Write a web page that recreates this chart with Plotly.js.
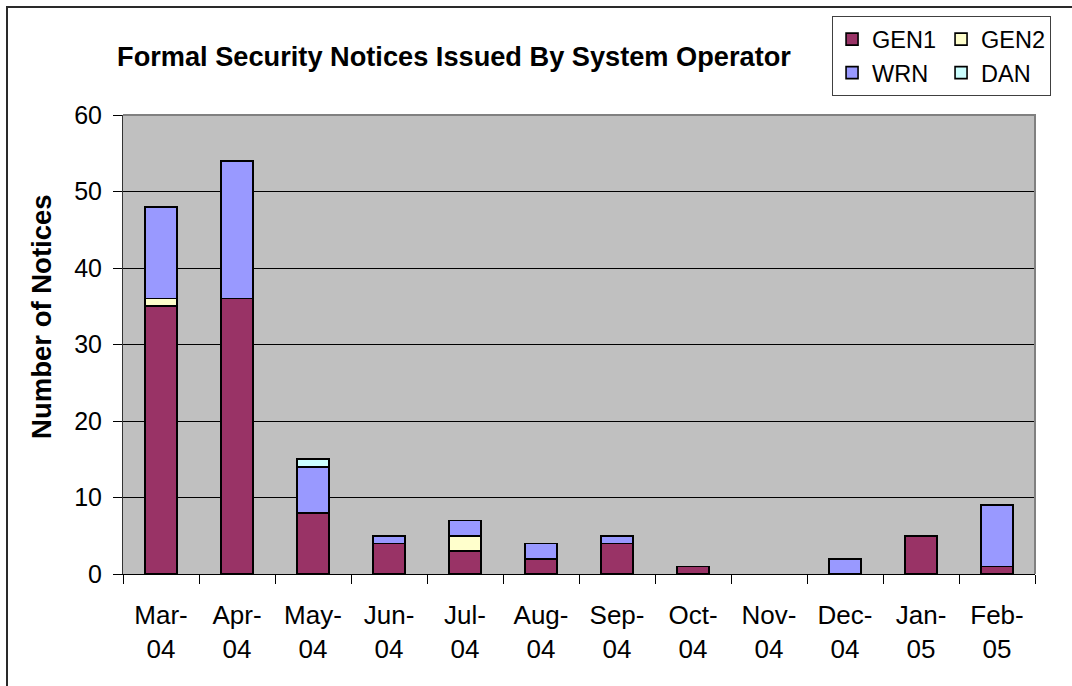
<!DOCTYPE html>
<html>
<head>
<meta charset="utf-8">
<script src="https://cdn.plot.ly/plotly-3.0.1.min.js"></script>
<style>
  html, body { margin: 0; padding: 0; background: #ffffff; }
  #frame { position: absolute; left: 6px; top: 6px; width: 2000px; height: 2000px; border: 2px solid #2a2a2a; box-sizing: border-box; }
  #chart { position: absolute; left: 0; top: 0; width: 1072px; height: 686px; }
</style>
</head>
<body>
<div id="frame"></div>
<div id="chart"></div>
<script>
const months = ["Mar-<br>04", "Apr-<br>04", "May-<br>04", "Jun-<br>04", "Jul-<br>04", "Aug-<br>04",
                "Sep-<br>04", "Oct-<br>04", "Nov-<br>04", "Dec-<br>04", "Jan-<br>05", "Feb-<br>05"];
const gen1 = [35, 36, 8, 4, 3, 2, 4, 1, 0, 0, 5, 1];
const gen2 = [1, 0, 0, 0, 2, 0, 0, 0, 0, 0, 0, 0];
const wrn  = [12, 18, 6, 1, 2, 2, 1, 0, 0, 2, 0, 8];
const dan  = [0, 0, 1, 0, 0, 0, 0, 0, 0, 0, 0, 0];

const FONT = "Arial, 'Liberation Sans', sans-serif";

function series(name, values, color, group) {
  return {
    type: "bar", name: name, x: months,
    // empty segments are not drawn (no zero-height outline)
    y: values.map(v => (v === 0 ? null : v)),
    legendgroup: group,
    marker: { color: color, line: { color: "#000000", width: 1.6 } },
    hoverinfo: "x+y+name"
  };
}

const data = [
  series("GEN1", gen1, "#993366", "a"),
  series("GEN2", gen2, "#FFFFCC", "b"),
  series("WRN",  wrn,  "#9999FF", "a"),
  series("DAN",  dan,  "#CCFFFF", "b")
];

const layout = {
  width: 1072, height: 686,
  paper_bgcolor: "rgba(0,0,0,0)",
  plot_bgcolor: "#C0C0C0",
  font: { family: FONT, color: "#000000" },
  margin: { l: 123, r: 37, t: 115, b: 112, autoexpand: false },
  barmode: "stack",
  bargap: 0.58,
  title: {
    text: "<b>Formal Security Notices Issued By System Operator</b>",
    font: { family: FONT, size: 27.2, color: "#000000" },
    xref: "container", x: 0.4235, xanchor: "center",
    yref: "container", y: 0.918, yanchor: "middle"
  },
  xaxis: {
    type: "category",
    tickson: "boundaries",
    ticks: "outside", ticklen: 9, tickwidth: 1, tickcolor: "#000000",
    showline: true, linecolor: "#000000", linewidth: 1,
    showgrid: false,
    ticklabelstandoff: 18,
    tickfont: { family: FONT, size: 26, color: "#000000" },
    automargin: false
  },
  yaxis: {
    range: [0, 60], dtick: 10, tick0: 0,
    ticks: "outside", ticklen: 9, tickwidth: 1, tickcolor: "#000000",
    showline: true, linecolor: "#333333", linewidth: 1,
    showgrid: true, gridcolor: "#000000", gridwidth: 1,
    zeroline: false,
    ticklabelstandoff: 6,
    tickfont: { family: FONT, size: 25, color: "#000000" },
    automargin: false
  },
  annotations: [
    { text: "<b>Number of Notices</b>", textangle: -90, showarrow: false,
      xref: "paper", x: -0.0889, xanchor: "center",
      yref: "paper", y: 0.56, yanchor: "middle",
      font: { family: FONT, size: 27.5, color: "#000000" } }
  ],
  legend: {
    orientation: "h",
    traceorder: "grouped",
    tracegroupgap: 38,
    xref: "paper", x: 1.0176, xanchor: "right",
    yref: "paper", y: 1.215, yanchor: "top",
    bgcolor: "#ffffff", bordercolor: "#404040", borderwidth: 1,
    font: { family: FONT, size: 23.5, color: "#000000" },
    itemwidth: 30
  },
  shapes: [
    { type: "path", xref: "paper", yref: "paper", path: "M0,1 L1,1 L1,0",
      line: { color: "#808080", width: 2 }, layer: "above" }
  ],
  showlegend: true
};

Plotly.newPlot("chart", data, layout, { displayModeBar: false, staticPlot: true });
</script>
</body>
</html>
